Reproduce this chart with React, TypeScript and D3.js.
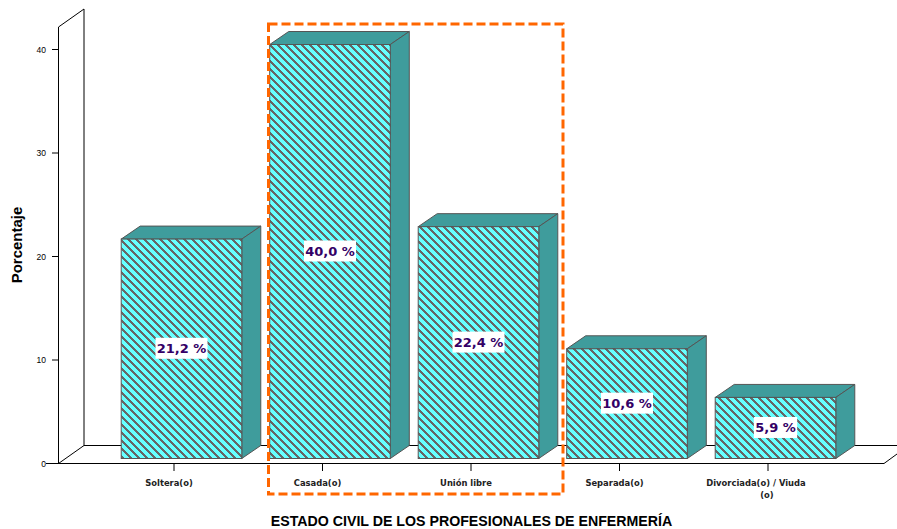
import React from "react";
import * as d3 from "d3";

const categories = ["Soltera(o)", "Casada(o)", "Unión libre", "Separada(o)", "Divorciada(o) / Viuda"];
const values = [21.2, 40.0, 22.4, 10.6, 5.9];
const valueLabels = ["21,2 %", "40,0 %", "22,4 %", "10,6 %", "5,9 %"];
const yTicks = [0, 10, 20, 30, 40];
const xTitle = "ESTADO CIVIL DE LOS PROFESIONALES DE ENFERMERÍA";
const yTitle = "Porcentaje";

const W = 897, H = 529;
const y = d3.scaleLinear().domain([0, 40]).range([463.5, 49.5]);
const x = d3.scaleBand<string>().domain(categories).range([99.75, 842.25]).paddingInner(0.188).paddingOuter(0.094);
const depthX = 19, depthY = 13;
const barShiftX = 7.5, barShiftY = -5;
const stroke = "#555";
const labelFont = "'DejaVu Sans', sans-serif";
const catFont = "'DejaVu Sans', sans-serif";
const arial = "'Liberation Sans', Arial, sans-serif";
const hatchSize = 8;

export default function App() {
  return (
    <svg width={W} height={H} style={{ position: "absolute", left: 0, top: 0, background: "#fff" }}>
      <defs>
        <pattern id="hatch" width={hatchSize} height={hatchSize} patternUnits="userSpaceOnUse">
          <rect width={hatchSize} height={hatchSize} fill="#66ffff" />
          {d3.range(hatchSize).map((k) =>
            d3.range(3).map((j) => (
              <rect key={`${k}-${j}`} x={(k + j) % hatchSize} y={k} width={1} height={1} fill="#666" shapeRendering="crispEdges" />
            ))
          )}
        </pattern>
      </defs>
      <path d="M58.5 463.5 V27 L84 9 V445.5 H897" fill="none" stroke="#000" strokeWidth={1} />
      <path d="M58.5 463.5 L84 445.5" fill="none" stroke="#000" strokeWidth={1} />
      <path d="M46 463.5 H884 L897 454" fill="none" stroke="#000" strokeWidth={1} />
      {yTicks.map((t) => (
        <g key={t}>
          <line x1={52} x2={58.5} y1={y(t)} y2={y(t)} stroke="#000" />
          <text x={46} y={y(t) + 3} textAnchor="end" fontFamily={arial} fontSize={8.5} fill="#000">{t}</text>
        </g>
      ))}
      {categories.map((c, i) => {
        const left = x(c)! + barShiftX;
        const w = x.bandwidth();
        const top = y(values[i]) + barShiftY;
        const bottom = y(0) + barShiftY;
        const tick = x(c)! + w / 2;
        const cx = left + w / 2;
        const cy = (top + bottom) / 2;
        const lw = valueLabels[i].length * 8.67;
        return (
          <g key={c}>
            <path d={`M${left} ${top} l${depthX} ${-depthY} h${w} l${-depthX} ${depthY} Z`} fill="#3f9c9c" stroke={stroke} />
            <path d={`M${left + w} ${top} l${depthX} ${-depthY} V${bottom - depthY} l${-depthX} ${depthY} Z`} fill="#3f9c9c" stroke={stroke} />
            <rect x={left} y={top} width={w} height={bottom - top} fill="url(#hatch)" stroke={stroke} />
            <rect x={cx - lw / 2} y={cy - 11} width={lw} height={21} fill="#fff" />
            <text x={cx} y={cy + 4.5} textAnchor="middle" fontFamily={labelFont} fontWeight="bold" fontSize={13} fill="#330066">{valueLabels[i]}</text>
            <line x1={tick} x2={tick} y1={463.5} y2={471} stroke="#000" />
            <text x={tick - (i === 4 ? 12 : 5)} y={485.5} textAnchor="middle" fontFamily={catFont} fontWeight="bold" fontSize={8.4} fill="#222">{c}</text>
            {i === 4 && <text x={tick - 1} y={498} textAnchor="middle" fontFamily={catFont} fontWeight="bold" fontSize={8.4} fill="#222">(o)</text>}
          </g>
        );
      })}
      <rect x={268.5} y={24} width={294.5} height={470} fill="none" stroke="#ff6600" strokeWidth={3} strokeDasharray="9 4" />
      <text x={471.5} y={526} textAnchor="middle" fontFamily={arial} fontWeight="bold" fontSize={14.2} fill="#000">{xTitle}</text>
      <text transform="translate(22,245) rotate(-90)" textAnchor="middle" fontFamily={arial} fontWeight="bold" fontSize={15} fill="#000">{yTitle}</text>
    </svg>
  );
}
